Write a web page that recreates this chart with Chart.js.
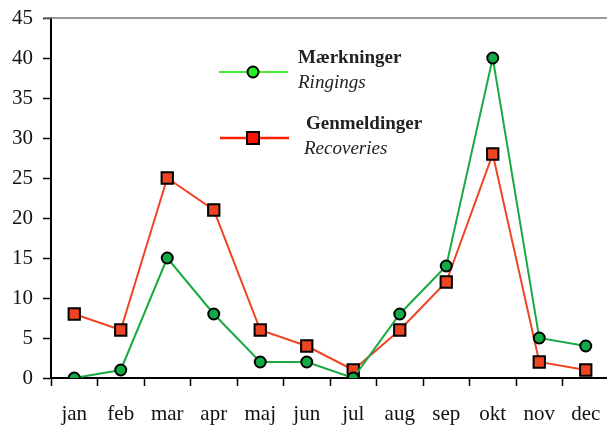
<!DOCTYPE html>
<html>
<head>
<meta charset="utf-8">
<script src="https://cdn.jsdelivr.net/npm/chart.js@4"></script>
<style>
  html, body { margin: 0; padding: 0; background: #fff; overflow: hidden; }
  #wrap { position: absolute; left: 0; top: 0; width: 619px; height: 427px; }
</style>
</head>
<body>
<div id="wrap"><canvas id="chart"></canvas></div>
<script>
const months = ["jan", "feb", "mar", "apr", "maj", "jun", "jul", "aug", "sep", "okt", "nov", "dec"];
const ringings = [0, 1, 15, 8, 2, 2, 0, 8, 14, 40, 5, 4];
const recoveries = [8, 6, 25, 21, 6, 4, 1, 6, 12, 28, 2, 1];
const yTicks = [0, 5, 10, 15, 20, 25, 30, 35, 40, 45];

const FONT = "'Liberation Serif', 'DejaVu Serif', serif";

// legend drawn by hand: bold Danish name over italic English name
const legendPlugin = {
  id: "bilingualLegend",
  afterDraw(chart) {
    const ctx = chart.ctx;
    ctx.save();
    // top frame line
    ctx.strokeStyle = "#777";
    ctx.lineWidth = 1.5;
    ctx.beginPath();
    ctx.moveTo(44, chart.chartArea.top);
    ctx.lineTo(chart.width, chart.chartArea.top);
    ctx.stroke();

    // Mærkninger
    ctx.strokeStyle = "#44ee33";
    ctx.lineWidth = 2;
    ctx.beginPath(); ctx.moveTo(219, 72); ctx.lineTo(288, 72); ctx.stroke();
    ctx.beginPath(); ctx.arc(253, 72, 5.5, 0, Math.PI * 2);
    ctx.fillStyle = "#22ee22"; ctx.fill();
    ctx.strokeStyle = "#000"; ctx.lineWidth = 2; ctx.stroke();

    // Genmeldinger
    ctx.strokeStyle = "#ff2200";
    ctx.lineWidth = 2.5;
    ctx.beginPath(); ctx.moveTo(220, 138); ctx.lineTo(289, 138); ctx.stroke();
    ctx.fillStyle = "#ff1100";
    ctx.fillRect(247, 132, 12, 12);
    ctx.strokeStyle = "#000"; ctx.lineWidth = 2;
    ctx.strokeRect(247, 132, 12, 12);

    ctx.fillStyle = "#222";
    ctx.textBaseline = "alphabetic";
    ctx.font = "bold 19px " + FONT;
    ctx.fillText("Mærkninger", 298, 63);
    ctx.fillText("Genmeldinger", 306, 129);
    ctx.font = "italic 19px " + FONT;
    ctx.fillText("Ringings", 298, 88);
    ctx.fillText("Recoveries", 304, 154);
    ctx.restore();
  }
};

new Chart(document.getElementById("chart"), {
  type: "line",
  data: {
    labels: months,
    datasets: [
      {
        label: "Mærkninger",
        data: ringings,
        borderColor: "#1aaa44",
        borderWidth: 2,
        backgroundColor: "#12aa44",
        pointBackgroundColor: "#12aa44",
        pointBorderColor: "#000",
        pointBorderWidth: 2,
        pointRadius: 5.5,
        pointStyle: "circle",
        tension: 0
      },
      {
        label: "Genmeldinger",
        data: recoveries,
        borderColor: "#ee4422",
        borderWidth: 2,
        backgroundColor: "#ee4422",
        pointBackgroundColor: "#ee4422",
        pointBorderColor: "#000",
        pointBorderWidth: 2,
        pointRadius: 8,
        pointStyle: "rect",
        tension: 0
      }
    ]
  },
  plugins: [legendPlugin],
  options: {
    responsive: true,
    maintainAspectRatio: false,
    animation: false,
    layout: { padding: { top: 18, right: 0, left: 0, bottom: 0 } },
    plugins: {
      legend: { display: false },
      tooltip: { enabled: false }
    },
    scales: {
      x: {
        offset: true,
        grid: {
          offset: true,
          drawOnChartArea: false,
          drawTicks: true,
          tickLength: 8,
          tickColor: "#000",
          tickWidth: 1.5
        },
        border: { color: "#000", width: 2 },
        ticks: {
          color: "#111",
          padding: 16,
          maxRotation: 0,
          font: { family: FONT, size: 21 }
        },
        afterFit: (scale) => { scale.height = 49; }
      },
      y: {
        min: 0,
        max: 45,
        afterBuildTicks: (scale) => { scale.ticks = yTicks.map(v => ({ value: v })); },
        grid: {
          drawOnChartArea: false,
          tickLength: 8,
          tickColor: "#000",
          tickWidth: 1.5
        },
        border: { color: "#000", width: 2 },
        ticks: {
          color: "#111",
          padding: 10,
          font: { family: FONT, size: 21 }
        },
        afterFit: (scale) => { scale.width = 51; scale.paddingTop = 0; }
      }
    }
  }
});
</script>
</body>
</html>
